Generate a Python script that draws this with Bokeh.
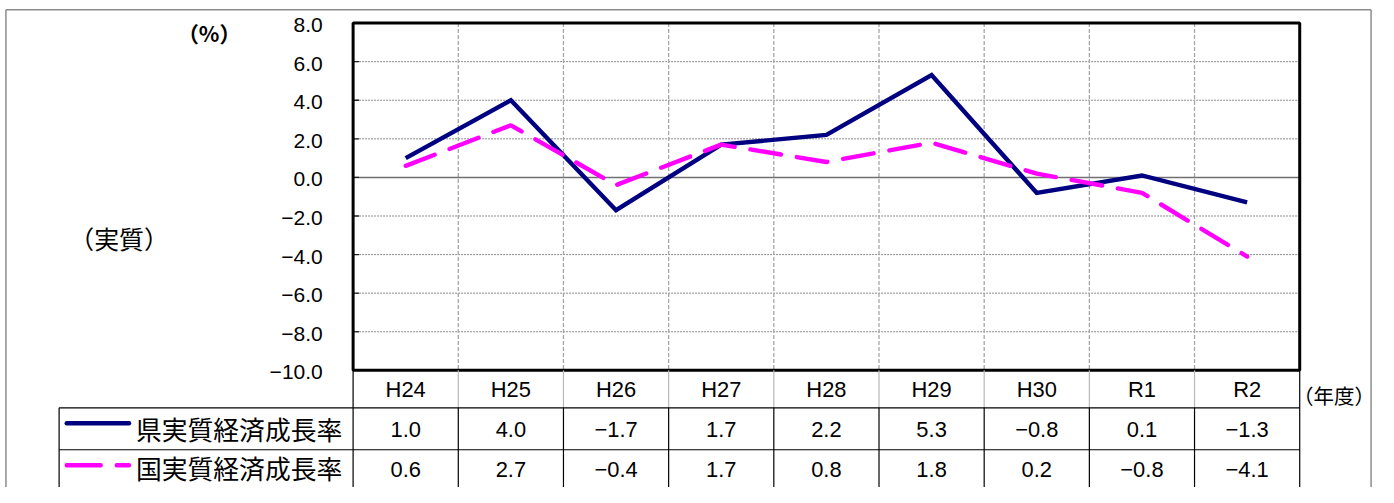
from bokeh.plotting import figure
from bokeh.models import Range1d
from bokeh.embed import file_html
from bokeh.resources import INLINE
from bokeh.core.properties import value

# ---- data ----
categories = ["H24", "H25", "H26", "H27", "H28", "H29", "H30", "R1", "R2"]
ken = [1.0, 4.0, -1.7, 1.7, 2.2, 5.3, -0.8, 0.1, -1.3]
kuni = [0.6, 2.7, -0.4, 1.7, 0.8, 1.8, 0.2, -0.8, -4.1]
y_ticks = [8, 6, 4, 2, 0, -2, -4, -6, -8, -10]
series_names = ["県実質経済成長率", "国実質経済成長率"]
y_unit = "（%）"
y_title = "（実質）"
x_unit = "（年度）"

# ---- layout: the figure shows the reference's 1394x503 picture, scaled to fit ----
W, H = 1378, 487
REF_W, REF_H = 1394, 503
PL, PR = 356.7, 1314.3
PT, PB = 23.3, 382.0
YMAX, YMIN = 8.0, -10.0
ROW1, ROW2 = 420.7, 464.0
LEG_L = 59.3
N = len(categories)
colw = (PR - PL) / N
ppu = (PB - PT) / (YMAX - YMIN)
S = 0.975  # font / line scale


def X(px):
    return (px - PL) / colw - 0.5


def Y(py):
    return YMAX - (py - PT) / ppu


def fs(size):
    return value(f"{size * S:.1f}px")


def fmt(v):
    return f"{v:.1f}".replace("-", "\u2212")


p = figure(width=W, height=H,
           x_range=Range1d(X(0), X(REF_W)),
           y_range=Range1d(Y(REF_H), Y(0)),
           output_backend="svg", toolbar_location=None,
           x_axis_location=None, y_axis_location=None, min_border=0)
p.grid.visible = False
p.outline_line_color = None
p.background_fill_color = "white"
p.border_fill_color = "white"

xs = list(range(N))
bottom = Y(REF_H)

# outer gray frame
p.segment(x0=[X(5.5), X(5.5), X(1386.5)], y0=[Y(9.5), Y(9.5), Y(9.5)],
          x1=[X(5.5), X(1386.5), X(1386.5)], y1=[bottom, Y(9.5), bottom],
          line_color="#8c8c8c", line_width=1.5)

# horizontal gridlines
gy = [t for t in y_ticks if t not in (0, YMAX, YMIN)]
p.segment(x0=[-0.5] * len(gy), x1=[N - 0.5] * len(gy), y0=gy, y1=gy,
          line_color="#8a8a8a", line_width=1, line_dash="2 1")
# vertical gridlines
vx = [i + 0.5 for i in range(N - 1)]
p.segment(x0=vx, x1=vx, y0=[YMAX] * len(vx), y1=[YMIN] * len(vx),
          line_color="#a6a6a6", line_width=1.3, line_dash="4 2")
# zero line
p.segment(x0=[-0.5], x1=[N - 0.5], y0=[0], y1=[0], line_color="#707070", line_width=1.5)
# inner ticks
p.segment(x0=[-0.5] * len(y_ticks), x1=[X(PL + 6)] * len(y_ticks), y0=y_ticks, y1=y_ticks,
          line_color="#202020", line_width=1.3)

# data lines
p.line(xs, ken, line_color="#000080", line_width=4.4, line_join="miter")
p.line(xs, kuni, line_color="#ff00ff", line_width=4.4, line_dash="31 16", line_cap="round")

# plot frame
p.rect(x=[(N - 1) / 2], y=[(YMAX + YMIN) / 2], width=[N], height=[YMAX - YMIN],
       fill_color=None, line_color="black", line_width=3)

# table lines
p.segment(x0=vx, x1=vx, y0=[YMIN] * len(vx), y1=[Y(ROW1)] * len(vx),
          line_color="#b8b8b8", line_width=1.2)
p.segment(x0=vx, x1=vx, y0=[Y(ROW1)] * len(vx), y1=[bottom] * len(vx),
          line_color="black", line_width=1.2)
p.segment(x0=[-0.5, N - 0.5, X(LEG_L)], x1=[-0.5, N - 0.5, X(LEG_L)],
          y0=[YMIN, YMIN, Y(ROW1)], y1=[bottom, bottom, bottom],
          line_color="black", line_width=1.2)
p.segment(x0=[X(LEG_L), X(LEG_L)], x1=[N - 0.5, N - 0.5], y0=[Y(ROW1), Y(ROW2)], y1=[Y(ROW1), Y(ROW2)],
          line_color="black", line_width=1.2)

num_font = value("Liberation Sans")
jp_font = value("Noto Sans CJK JP")

# y tick labels
p.text(x=[X(326)] * len(y_ticks), y=y_ticks, text=[fmt(t) for t in y_ticks],
       text_align="right", text_baseline="middle", y_offset=2,
       text_font=num_font, text_font_size=fs(21.5), text_color="black")

# category row
p.text(x=xs, y=[Y(402)] * N, text=categories, text_align="center", text_baseline="middle",
       text_font=num_font, text_font_size=fs(22.5), text_color="black")
# value rows
p.text(x=xs, y=[Y(443)] * N, text=[fmt(v) for v in ken], text_align="center", text_baseline="middle",
       text_font=num_font, text_font_size=fs(22.5), text_color="black")
p.text(x=xs, y=[Y(484)] * N, text=[fmt(v) for v in kuni], text_align="center", text_baseline="middle",
       text_font=num_font, text_font_size=fs(22.5), text_color="black")

# legend samples
p.line([X(67), X(130)], [Y(436.7), Y(436.7)], line_color="#000080", line_width=4.4, line_cap="round")
p.line([X(67), X(130)], [Y(480), Y(480)], line_color="#ff00ff", line_width=4.4,
       line_dash="34 16", line_cap="round")
p.text(x=[X(137), X(137)], y=[Y(442), Y(482)], text=series_names, text_align="left",
       text_baseline="middle", text_font=jp_font, text_font_size=fs(26.5), text_color="black")

# unit labels
p.text(x=[X(211)], y=[Y(33)], text=[y_unit], text_align="center", text_baseline="middle",
       text_font=jp_font, text_font_size=fs(22), text_font_style="bold", text_color="black")
p.text(x=[X(120)], y=[Y(245)], text=[y_title], text_align="center", text_baseline="middle",
       text_font=jp_font, text_font_size=fs(25.5), text_color="black")
p.text(x=[X(1349)], y=[Y(407)], text=[x_unit], text_align="center", text_baseline="middle",
       text_font=jp_font, text_font_size=fs(21), text_color="black")

open("out.html", "w").write(file_html(p, INLINE))
